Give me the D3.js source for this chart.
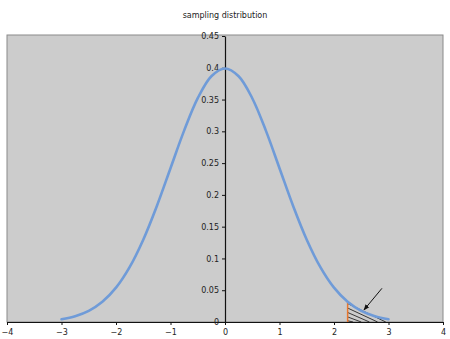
<!DOCTYPE html>
<meta charset="utf-8">
<style>
  body { margin: 0; background: #fff; font-family: "DejaVu Sans", Verdana, sans-serif; }
  svg text { fill: #222; }
</style>
<body>
<div id="chart"></div>
<script src="https://d3js.org/d3.v7.min.js"></script>
<script>
// sampling distribution (standard normal)
const xVals = [-3, -2.75, -2.5, -2.25, -2, -1.75, -1.5, -1.25, -1, -0.75, -0.5, -0.25, 0,
               0.25, 0.5, 0.75, 1, 1.25, 1.5, 1.75, 2, 2.25, 2.5, 2.75, 3];
const yVals = [0.0044, 0.0091, 0.0175, 0.0317, 0.054, 0.0863, 0.1295, 0.1826, 0.242, 0.3011, 0.3521, 0.3867, 0.3989,
               0.3867, 0.3521, 0.3011, 0.242, 0.1826, 0.1295, 0.0863, 0.054, 0.0317, 0.0175, 0.0091, 0.0044];
const xTicks = [-4, -3, -2, -1, 0, 1, 2, 3, 4];
const yTicks = [0, 0.05, 0.1, 0.15, 0.2, 0.25, 0.3, 0.35, 0.4, 0.45];
const cutoff = 2.25;
// hatch lines in the tail: start height at the cutoff, end x on the axis
const hatchStart = [0.029, 0.022, 0.015, 0.008, 0.002];
const hatchEnd = [2.95, 2.8, 2.65, 2.5, 2.35];
const arrowFrom = [2.88, 0.053];
const arrowTo = [2.55, 0.019];

const width = 450, height = 339;
const x = d3.scaleLinear().domain([-4, 4]).range([7, 443]);
const y = d3.scaleLinear().domain([0, 0.45]).range([322, 36]);

const svg = d3.select("#chart").append("svg")
  .attr("width", width).attr("height", height)
  .style("font-size", "8px");

svg.append("text")
  .attr("x", 225).attr("y", 18)
  .attr("text-anchor", "middle")
  .style("font-size", "8px")
  .text("sampling distribution");

svg.append("rect")
  .attr("x", x(-4)).attr("y", y(0.45) - 1)
  .attr("width", x(4) - x(-4)).attr("height", y(0) - y(0.45) + 1)
  .attr("fill", "#cccccc")
  .attr("stroke", "#8a8a8a")
  .attr("stroke-width", 1);

// hatched tail
const hatch = svg.append("g").attr("stroke", "#111").attr("stroke-width", 0.8);
hatchStart.forEach((h, i) => {
  hatch.append("line")
    .attr("x1", x(cutoff)).attr("y1", y(h))
    .attr("x2", x(hatchEnd[i])).attr("y2", y(0));
});

svg.append("line")
  .attr("x1", x(cutoff)).attr("x2", x(cutoff))
  .attr("y1", y(0.032)).attr("y2", y(0))
  .attr("stroke", "#e8772e").attr("stroke-width", 1.5);

// x axis
svg.append("g")
  .attr("transform", `translate(0,${y(0)})`)
  .call(d3.axisBottom(x).tickValues(xTicks).tickSize(3).tickSizeOuter(0).tickFormat(d3.format("d")))
  .call(g => g.select(".domain").attr("stroke", "#111").attr("stroke-width", 1.2))
  .call(g => g.selectAll(".tick line").attr("stroke", "#111"))
  .call(g => g.selectAll("text").attr("dy", "0.9em").style("font-size", "8px").style("font-family", "DejaVu Sans"));

// y axis through zero
svg.append("g")
  .attr("transform", `translate(${x(0)},0)`)
  .call(d3.axisLeft(y).tickValues(yTicks).tickSize(3).tickSizeOuter(0).tickFormat(d => d === 0 ? "0" : String(+d.toFixed(2))))
  .call(g => g.select(".domain").attr("stroke", "#111").attr("stroke-width", 1.2))
  .call(g => g.selectAll(".tick line").attr("stroke", "#111"))
  .call(g => g.selectAll("text").style("font-size", "8px").style("font-family", "DejaVu Sans"));

// curve
const line = d3.line()
  .x((d, i) => x(xVals[i]))
  .y(d => y(d))
  .curve(d3.curveCatmullRom);

svg.append("path")
  .datum(yVals)
  .attr("d", line)
  .attr("fill", "none")
  .attr("stroke", "#6f9bd8")
  .attr("stroke-width", 2.6)
  .attr("stroke-linecap", "round");

// arrow
svg.append("defs").append("marker")
  .attr("id", "head")
  .attr("viewBox", "0 0 10 10")
  .attr("refX", 9).attr("refY", 5)
  .attr("markerWidth", 6).attr("markerHeight", 6)
  .attr("orient", "auto")
  .append("path").attr("d", "M0,1 L10,5 L0,9 Z").attr("fill", "#111");

svg.append("line")
  .attr("x1", x(arrowFrom[0])).attr("y1", y(arrowFrom[1]))
  .attr("x2", x(arrowTo[0])).attr("y2", y(arrowTo[1]))
  .attr("stroke", "#111").attr("stroke-width", 1)
  .attr("marker-end", "url(#head)");
</script>
</body>
